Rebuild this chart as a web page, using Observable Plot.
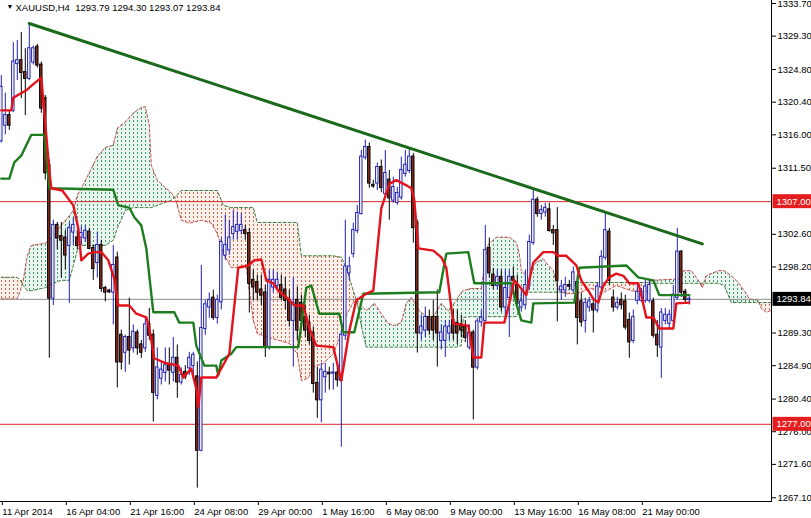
<!DOCTYPE html>
<html><head><meta charset="utf-8">
<script src="https://cdn.jsdelivr.net/npm/d3@7"></script>
<script src="https://cdn.jsdelivr.net/npm/@observablehq/plot@0.6"></script>
<style>
body{margin:0;background:#fff;}
#chart svg{display:block;}
</style></head><body>
<div id="chart"></div>
<script>
const titleText = "XAUUSD,H4\u00a0\u00a01293.79 1294.30 1293.07 1293.84";

const opens = [1315.2,1317.3,1318.6,1319.3,1325.6,1326.0,1324.4,1323.6,1325.8,1327.8,
1325.4,1320.9,1311.9,1294.0,1303.8,1302.3,1302.1,1301.1,1302.9,1302.1,
1302.2,1302.1,1302.9,1300.7,1298.8,1301.1,1295.3,1294.95,1294.8,1299.4,
1289.0,1286.7,1288.7,1287.3,1289.3,1287.7,1287.3,1290.4,1289.0,1280.9,
1283.2,1284.0,1284.9,1284.0,1285.9,1282.7,1284.0,1284.6,1284.9,1283.4,
1273.5,1289.9,1292.8,1294.0,1291.4,1293.5,1299.8,1300.5,1302.7,1303.0,
1303.1,1303.1,1302.7,1296.4,1296.1,1295.1,1294.7,1287.4,1295.5,1295.7,
1295.7,1295.1,1293.7,1291.0,1293.7,1293.3,1291.4,1290.6,1289.3,1282.5,
1280.3,1283.4,1283.9,1283.9,1283.9,1282.9,1289.0,1297.4,1300.0,1303.1,
1305.4,1313.0,1314.3,1309.2,1309.5,1311.6,1308.1,1309.9,1307.2,1306.9,
1307.6,1310.8,1311.2,1313.0,1304.1,1289.3,1289.7,1291.4,1291.4,1291.4,
1288.3,1288.3,1289.3,1291.0,1290.6,1290.4,1290.1,1287.4,1289.3,1284.7,
1290.8,1291.0,1300.7,1297.1,1295.7,1296.8,1292.8,1294.1,1296.8,1295.7,
1292.8,1293.1,1295.7,1301.5,1307.2,1305.4,1305.6,1305.9,1303.1,1303.1,
1295.1,1295.1,1295.7,1295.1,1296.1,1293.5,1291.0,1292.8,1293.1,1292.4,
1295.5,1299.5,1302.9,1294.0,1292.8,1293.7,1293.5,1291.0,1288.3,1293.7,
1293.7,1293.7,1293.7,1293.5,1289.0,1287.4,1291.0,1290.6,1291.0,1294.1,
1300.2,1294.8,1293.79];

const highs = [1324.0,1321.6,1319.3,1328.4,1328.7,1329.8,1327.6,1331.0,1328.0,1328.2,
1325.8,1321.3,1312.6,1304.5,1304.2,1304.2,1303.1,1304.2,1304.8,1303.1,
1303.7,1303.8,1303.4,1301.1,1302.9,1301.8,1295.6,1295.2,1301.1,1300.2,
1289.7,1289.0,1294.0,1290.4,1289.7,1288.3,1291.3,1292.6,1289.7,1287.3,
1285.4,1287.3,1287.3,1288.7,1287.7,1284.6,1284.9,1286.7,1286.7,1285.4,
1298.4,1293.7,1294.7,1295.1,1294.4,1302.1,1305.2,1304.5,1305.8,1305.6,
1305.4,1303.8,1303.4,1297.8,1297.1,1297.1,1295.7,1297.8,1297.8,1297.5,
1297.1,1296.8,1295.1,1296.8,1295.5,1294.4,1293.0,1291.7,1290.1,1284.7,
1285.2,1285.2,1284.7,1285.2,1285.2,1289.7,1304.5,1299.5,1304.1,1306.5,
1313.9,1315.3,1314.9,1309.9,1312.2,1312.6,1313.9,1311.2,1310.3,1308.9,
1313.0,1313.9,1314.2,1313.5,1304.5,1291.7,1292.8,1292.4,1293.7,1295.1,
1290.4,1291.0,1291.0,1292.4,1292.4,1291.7,1291.0,1290.4,1289.7,1291.3,
1292.4,1303.8,1302.1,1298.0,1297.8,1297.8,1297.8,1297.8,1298.2,1297.1,
1295.1,1297.8,1302.5,1308.8,1307.6,1306.5,1306.8,1306.8,1303.8,1306.2,
1296.4,1296.8,1296.4,1298.2,1297.1,1294.7,1294.0,1294.1,1293.7,1296.0,
1300.4,1305.4,1303.4,1295.1,1294.1,1294.7,1294.4,1292.0,1292.4,1295.7,
1295.3,1296.4,1296.4,1294.0,1291.0,1292.6,1292.6,1292.4,1295.7,1303.4,
1300.4,1295.2,1294.30];

const lows = [1314.9,1316.0,1316.6,1319.0,1323.3,1320.9,1318.6,1323.3,1325.4,1325.0,
1318.9,1309.9,1285.9,1293.0,1300.5,1296.7,1297.8,1293.3,1301.1,1300.5,
1301.1,1301.5,1300.5,1296.4,1296.7,1294.8,1293.5,1294.6,1290.4,1281.9,
1284.3,1284.0,1285.0,1286.6,1286.3,1285.9,1286.7,1288.3,1277.3,1280.3,
1282.3,1282.7,1282.3,1282.7,1280.5,1282.3,1283.0,1283.6,1283.0,1268.4,
1273.3,1289.0,1291.3,1291.0,1290.5,1292.4,1299.1,1299.8,1301.8,1301.8,
1302.5,1301.8,1292.0,1293.7,1293.7,1293.0,1286.0,1287.0,1294.7,1295.1,
1293.7,1292.4,1290.1,1284.7,1288.3,1289.7,1288.7,1287.7,1281.2,1277.8,
1277.2,1281.2,1281.6,1281.6,1282.0,1273.9,1288.3,1296.4,1299.4,1302.7,
1305.2,1312.6,1308.8,1308.8,1308.5,1308.2,1307.6,1304.5,1306.8,1306.5,
1307.2,1310.3,1310.8,1301.4,1286.6,1288.3,1288.7,1289.0,1288.3,1284.7,
1287.0,1286.0,1288.3,1288.3,1287.7,1288.7,1288.0,1287.0,1277.6,1284.3,
1290.1,1290.8,1296.7,1295.1,1295.1,1292.1,1291.4,1288.7,1295.1,1292.8,
1292.1,1292.4,1295.1,1301.1,1304.9,1304.5,1304.9,1302.9,1301.1,1290.8,
1293.7,1294.1,1295.1,1294.7,1287.7,1290.1,1289.3,1292.1,1289.3,1292.0,
1295.1,1299.1,1295.7,1292.1,1292.4,1292.4,1289.7,1285.9,1287.9,1293.1,
1293.4,1293.3,1293.3,1288.6,1286.0,1283.2,1290.4,1289.7,1290.4,1293.7,
1294.1,1293.4,1293.07];

const closes = [1322.4,1318.6,1317.3,1325.8,1326.0,1324.4,1323.6,1327.6,1327.6,1325.4,
1319.6,1310.9,1294.0,1303.8,1302.1,1301.8,1299.8,1303.4,1303.8,1301.1,
1302.7,1303.0,1300.7,1298.0,1301.1,1295.3,1294.8,1294.85,1298.4,1285.4,
1285.4,1288.7,1287.0,1289.4,1287.3,1286.7,1290.4,1289.0,1281.3,1284.6,
1284.3,1284.9,1284.3,1285.9,1282.7,1283.6,1283.4,1285.9,1286.3,1273.5,
1289.9,1293.1,1293.7,1291.4,1293.7,1301.5,1301.1,1302.1,1303.5,1303.8,
1303.8,1302.7,1296.0,1295.5,1294.8,1294.4,1287.4,1296.4,1296.4,1296.4,
1294.1,1293.7,1291.0,1293.3,1289.7,1291.0,1289.7,1288.3,1282.5,1280.3,
1284.3,1284.0,1283.8,1283.9,1283.0,1289.0,1298.2,1298.2,1303.1,1305.4,
1313.0,1314.3,1309.5,1309.1,1311.6,1308.9,1310.8,1307.5,1308.9,1308.1,
1311.2,1311.9,1313.0,1303.5,1289.3,1290.1,1291.4,1289.7,1289.7,1289.3,
1289.3,1290.1,1290.1,1289.3,1289.3,1289.7,1288.7,1289.3,1284.7,1290.8,
1291.3,1300.4,1297.4,1295.7,1296.8,1292.8,1295.3,1296.8,1296.4,1293.3,
1293.5,1295.7,1301.5,1307.2,1305.4,1305.8,1306.1,1303.1,1302.8,1296.4,
1295.5,1295.7,1295.6,1297.4,1291.4,1290.8,1293.3,1293.5,1292.4,1295.5,
1299.5,1303.1,1296.4,1292.8,1293.3,1293.1,1290.1,1288.1,1291.4,1294.8,
1294.8,1295.5,1295.7,1289.0,1287.7,1292.0,1291.7,1291.7,1294.4,1300.2,
1294.8,1293.8,1293.84];

// Tenkan-sen (red) vertices: [bar index, price]
const tenkan = [[0,1319.3],[2.5,1319.3],[3,1321.0],[6.25,1322.0],[7.5,1322.6],[10,1323.7],[10.5,1320.6],
[11.25,1315.9],[12,1311.2],[12.5,1308.8],[15.25,1308.5],[18,1306.5],[19.25,1303.4],[20,1299.1],
[21.75,1300.0],[23.25,1300.2],[25,1300.2],[26.75,1299.1],[28.25,1296.6],[29.25,1293.0],[32,1293.0],
[33.75,1291.9],[36.25,1291.4],[37,1289.9],[38.25,1285.9],[40.75,1285.3],[44.25,1284.9],[45.5,1283.3],
[47.5,1284.5],[48.75,1281.8],[49.25,1279.3],[50,1283.3],[53.75,1283.3],[57,1286.5],[59.25,1298.1],
[61.75,1298.4],[63.25,1299.1],[65,1299.2],[66.25,1296.4],[68,1296.0],[69.25,1295.0],[71.75,1293.9],
[73.25,1293.0],[75.5,1293.0],[77,1290.0],[78.75,1287.6],[83,1287.4],[85,1282.9],[87,1289.6],
[88.75,1293.7],[91.25,1294.6],[93,1295.0],[95,1306.1],[97,1309.4],[98.75,1309.9],[101.25,1309.2],
[102.5,1308.8],[103.25,1307.2],[104.25,1300.7],[108,1300.4],[110,1299.5],[111.25,1298.1],[113,1290.6],
[116.75,1290.3],[118,1286.0],[120,1286.0],[120.75,1290.7],[125.75,1290.7],[127,1293.3],[128.25,1296.4],
[130,1295.3],[131.25,1294.4],[132,1296.4],[133,1298.8],[135.5,1300.2],[138,1300.2],[139.25,1299.7],
[141.25,1299.7],[143.75,1298.4],[145,1296.4],[146.75,1295.0],[148,1293.9],[149.25,1293.4],[150.5,1295.7],
[152,1296.8],[153.75,1297.3],[155.5,1297.0],[157,1296.0],[159.25,1296.0],[160,1294.4],[161.25,1291.4],
[163,1291.4],[164.5,1289.9],[168,1289.9],[168.75,1293.3],[172,1293.4]];

// Kijun-sen (green) vertices: [bar index, price]
const kijun = [[0,1310.1],[2,1310.1],[3.25,1312.3],[5,1313.2],[7.5,1316.0],[10.75,1316.0],[12,1308.8],
[28,1308.6],[29.25,1306.5],[32,1306.2],[33.25,1304.9],[35,1303.8],[36.25,1300.7],[37,1297.0],[38,1292.1],
[43.25,1292.1],[44.5,1290.7],[48,1290.7],[48.75,1287.6],[50.75,1284.9],[53.75,1284.9],[54.25,1283.6],
[55,1285.6],[57.5,1286.5],[58.75,1287.4],[74.25,1287.4],[76.25,1295.4],[77.5,1295.7],[79.5,1291.9],
[84.5,1291.9],[85.5,1289.4],[88.25,1289.4],[90.5,1294.6],[109.5,1294.8],[111.25,1300.0],[116.75,1300.2],
[118.25,1296.0],[127.5,1296.0],[128.75,1293.3],[130,1291.0],[132.5,1290.7],[133,1293.3],[143.25,1293.4],
[144.5,1298.1],[156.25,1298.4],[159.25,1296.8],[163,1296.4],[164.5,1294.4],[172,1294.4]];

// Ichimoku cloud: senkou span A / B read at these bar indexes
const cloudIdx = [0,4,4.75,5.5,6.5,7.5,11,13,15,17,18,19,20,22,24,26,28,29,31,33,
35,36,37,37.5,39,41,42.5,43.5,45,47,50,52.5,54,55.5,57.5,61.25,63,64,67.5,72,
74,75,76.75,78,80.5,83,85,86.25,88,89,90,91.25,93.25,95,96.75,98.25,100,101.25,102.5,104.5,
107.5,110,111.75,113.75,115,115.5,117.5,120,121.5,123.75,127,128.75,129.5,130,130.75,132.5,133.75,135.5,136.75,138,
138.75,139.5,141.25,143.75,147.5,150,153.75,157.5,161.25,162.5,170,170.5,172.5,174.25,175.25,176.25,179.25,180.75,182.5,184.25,
186,187,189.25,190,191.25,192.75];
const spanA = [1293.9,1293.9,1295.0,1296.4,1299.7,1301.1,1301.4,1302.4,1303.8,1305.1,
1305.8,1307.8,1308.8,1310.9,1313.1,1314.3,1314.6,1316.9,1317.7,1318.9,
1319.7,1319.8,1317.3,1311.9,1309.9,1308.9,1308.2,1307.4,1304.5,1304.1,
1304.5,1304.1,1302.7,1300.0,1298.1,1298.1,1291.0,1289.2,1288.6,1287.9,
1286.5,1282.9,1283.2,1284.7,1285.2,1286.5,1289.2,1291.7,1293.4,1293.7,
1293.0,1292.3,1293.3,1291.9,1290.6,1290.3,1290.7,1293.3,1294.1,1292.3,
1291.0,1293.3,1292.3,1293.7,1294.8,1295.0,1295.3,1295.3,1301.1,1302.2,
1302.2,1301.5,1300.0,1297.7,1297.3,1298.0,1298.8,1299.3,1298.4,1297.7,
1296.0,1295.0,1294.6,1294.6,1295.3,1294.6,1295.7,1295.0,1294.8,1296.4,
1296.6,1297.7,1297.7,1296.4,1295.4,1297.0,1297.7,1297.7,1297.0,1296.1,
1294.8,1293.9,1293.7,1292.6,1292.1,1292.4];
const spanB = [1296.8,1296.8,1296.4,1295.7,1295.0,1295.0,1295.4,1296.0,1296.4,1296.4,
1298.4,1300.4,1301.1,1301.1,1301.1,1301.1,1301.8,1303.4,1305.8,1306.2,
1306.2,1306.2,1306.2,1306.2,1306.5,1306.9,1307.2,1307.6,1308.5,1308.5,
1308.5,1308.5,1308.5,1306.5,1306.2,1306.2,1306.2,1304.2,1304.2,1304.2,
1304.2,1299.7,1299.7,1299.7,1299.7,1299.7,1299.5,1298.1,1295.0,1293.4,
1290.3,1287.4,1287.4,1287.4,1287.4,1287.4,1287.4,1287.4,1287.4,1287.4,
1287.4,1287.4,1287.4,1287.4,1287.6,1291.4,1291.5,1291.5,1291.5,1291.5,
1291.5,1291.5,1292.3,1294.6,1294.8,1294.8,1294.8,1294.8,1294.8,1294.8,
1294.8,1294.8,1294.8,1296.1,1296.1,1296.1,1296.1,1296.1,1296.1,1296.0,
1296.0,1296.0,1296.0,1296.0,1296.0,1296.0,1296.0,1295.7,1293.4,1293.4,
1293.4,1293.4,1293.4,1293.4,1293.4,1293.4];

const trend = [[7,1331.0],[175.25,1301.3]];
const levels = [1307.0, 1277.0];
const lastPrice = 1293.84;
const yTicks = [1333.7,1329.3,1324.8,1320.4,1316.0,1311.5,1302.6,1298.2,1289.3,1284.9,1280.4,1276.0,1271.6,1267.1];
const xTickIdx = [0,16,32,48,64,80,96,112,128,144,160];
const xTickLabels = ["11 Apr 2014","16 Apr 04:00","21 Apr 16:00","24 Apr 08:00","29 Apr 00:00","1 May 16:00","6 May 08:00","9 May 00:00","13 May 16:00","16 May 08:00","21 May 00:00"];
const tags = [
  {price: 1307.0, label: "1307.00", bg: "#e41e1e"},
  {price: 1293.84, label: "1293.84", bg: "#000000"},
  {price: 1277.0, label: "1277.00", bg: "#e41e1e"}
];

const candles = opens.map((o, i) => ({i, o, h: highs[i], l: lows[i], c: closes[i]}));
const up = candles.filter(d => d.c >= d.o);
const dn = candles.filter(d => d.c < d.o);
const cloud = cloudIdx.map((i, k) => ({i, a: spanA[k], b: spanB[k], top: Math.max(spanA[k], spanB[k])}));

const BULL = "#2020b4", BEAR_FILL = "#8a2a1c";
const GREEN_DOT = "#3f9a70", BROWN_DOT = "#cc6a48";

const svg = Plot.plot({
  width: 811, height: 518,
  marginLeft: 0, marginRight: 40, marginTop: 0, marginBottom: 17,
  x: {domain: [-0.2, 192.55]},
  y: {domain: [1266.6, 1334.1]},
  style: {fontFamily: "'Liberation Sans', Arial, sans-serif", fontSize: "9.5px", background: "white", color: "black", overflow: "visible"},
  marks: [
    Plot.areaY(cloud, {x: "i", y1: "b", y2: "top", fill: GREEN_DOT, fillOpacity: 0.1}),
    Plot.areaY(cloud, {x: "i", y1: "a", y2: "top", fill: BROWN_DOT, fillOpacity: 0.1}),
    Plot.areaY(cloud, {x: "i", y1: "b", y2: "top", fill: "url(#gdots)"}),
    Plot.areaY(cloud, {x: "i", y1: "a", y2: "top", fill: "url(#bdots)"}),
    Plot.line(cloud, {x: "i", y: "a", stroke: "#c0504d", strokeWidth: 1, strokeDasharray: "3,2", clip: true}),
    Plot.line(cloud, {x: "i", y: "b", stroke: "#3a7a3a", strokeWidth: 1, strokeDasharray: "3,2", clip: true}),
    Plot.ruleY(levels, {stroke: "#d42a2a", strokeWidth: 1}),
    Plot.ruleY([lastPrice], {stroke: "#8c8c8c", strokeWidth: 1}),
    Plot.ruleX(up, {x: "i", y1: "l", y2: "h", stroke: BULL, strokeWidth: 1, clip: true}),
    Plot.ruleX(dn, {x: "i", y1: "l", y2: "h", stroke: "#000", strokeWidth: 1, clip: true}),
    Plot.rect(up, {x1: d => d.i - 0.3, x2: d => d.i + 0.3, y1: "o", y2: "c", fill: "white", stroke: BULL, strokeWidth: 1, insetTop: -0.5, insetBottom: -0.5, clip: true}),
    Plot.rect(dn, {x1: d => d.i - 0.3, x2: d => d.i + 0.3, y1: "o", y2: "c", fill: BEAR_FILL, stroke: "#000", strokeWidth: 1, insetTop: -0.5, insetBottom: -0.5, clip: true}),
    Plot.line(kijun, {x: d => d[0], y: d => d[1], stroke: "#1e7d1e", strokeWidth: 2.4, clip: true}),
    Plot.line(tenkan, {x: d => d[0], y: d => d[1], stroke: "#e3121b", strokeWidth: 2.4, clip: true}),
    Plot.line(trend, {x: d => d[0], y: d => d[1], stroke: "#1b691b", strokeWidth: 3}),
    Plot.frame({anchor: "right", stroke: "black"}),
    Plot.frame({anchor: "bottom", stroke: "black"}),
    Plot.axisX(xTickIdx, {tickFormat: d => xTickLabels[xTickIdx.indexOf(d)], textAnchor: "start", tickSize: 4, tickPadding: 3, dx: 1, label: null}),
    Plot.axisY(yTicks, {anchor: "right", tickSize: 4, tickPadding: 2, tickFormat: d => d.toFixed(2), label: null}),
    Plot.text(["\u25BC"], {text: d => d, frameAnchor: "top-left", dx: 6, dy: 6, fontSize: 7, lineAnchor: "middle"}),
    Plot.text([titleText], {text: d => d, frameAnchor: "top-left", dx: 15, dy: 7, textAnchor: "start", lineAnchor: "middle"}),
    Plot.text(tags, {y: "price", text: "label", frameAnchor: "right", textAnchor: "start", dx: 5, fill: "white"})
  ]
});

document.getElementById("chart").append(svg);

// dotted fill patterns for the cloud
const SVGNS = "http://www.w3.org/2000/svg";
const defs = document.createElementNS(SVGNS, "defs");
[["gdots", GREEN_DOT], ["bdots", BROWN_DOT]].forEach(([id, color]) => {
  const p = document.createElementNS(SVGNS, "pattern");
  p.setAttribute("id", id);
  p.setAttribute("patternUnits", "userSpaceOnUse");
  p.setAttribute("width", "4");
  p.setAttribute("height", "4");
  const r = document.createElementNS(SVGNS, "rect");
  r.setAttribute("x", "1"); r.setAttribute("y", "0");
  r.setAttribute("width", "1"); r.setAttribute("height", "2");
  r.setAttribute("fill", color);
  p.appendChild(r);
  defs.appendChild(p);
});
svg.insertBefore(defs, svg.firstChild);

// coloured backgrounds behind the price tags on the right axis
const tagLabels = tags.map(t => t.label);
d3.select(svg).selectAll("text").each(function() {
  const k = tagLabels.indexOf(this.textContent);
  if (k < 0) return;
  const fill = this.getAttribute("fill") || this.parentNode.getAttribute("fill");
  if (fill !== "white") return;
  const bb = this.getBBox();
  const r = document.createElementNS(SVGNS, "rect");
  r.setAttribute("x", bb.x - 4);
  r.setAttribute("y", bb.y - 1.5);
  r.setAttribute("width", 60);
  r.setAttribute("height", bb.height + 3);
  r.setAttribute("fill", tags[k].bg);
  const tf = this.getAttribute("transform");
  if (tf) r.setAttribute("transform", tf);
  this.parentNode.insertBefore(r, this);
});
</script>
</body></html>
